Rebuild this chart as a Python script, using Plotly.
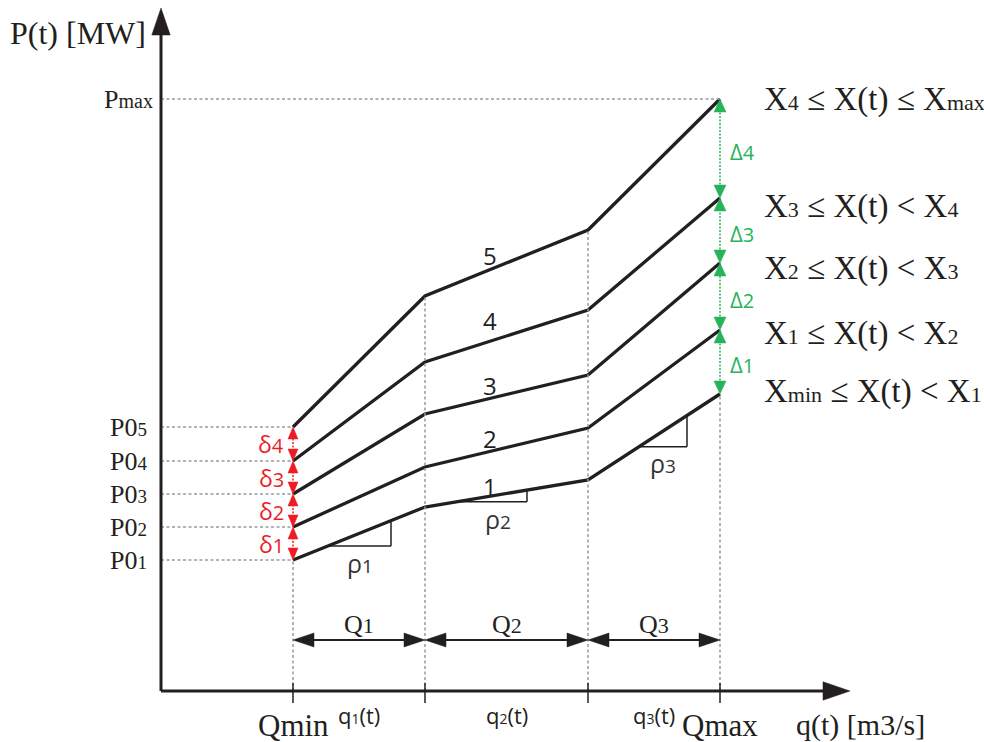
import plotly.graph_objects as go

# ---------------- data (schematic units) ----------------
q_break = [13.2, 26.4, 42.7, 55.9]          # Qmin, end of q1, end of q2, Qmax
P_line1 = [13.1, 18.4, 21.1, 29.7]
P_line2 = [16.4, 22.4, 26.3, 36.1]
P_line3 = [19.7, 27.7, 31.6, 42.8]
P_line4 = [23.0, 32.9, 38.1, 49.3]
P_line5 = [26.4, 39.5, 46.1, 59.2]
lines = [P_line1, P_line2, P_line3, P_line4, P_line5]
line_names = ["1", "2", "3", "4", "5"]
line_label_P = [20.5, 25.3, 30.6, 37.1, 43.6]
P0_labels = ["P0", "P0", "P0", "P0", "P0"]
seg_labels = ["1", "2", "3"]
region_labels = [
    ("X", "min", " ≤ X(t) &lt; X", "1"),
    ("X", "1", " ≤ X(t) &lt; X", "2"),
    ("X", "2", " ≤ X(t) &lt; X", "3"),
    ("X", "3", " ≤ X(t) &lt; X", "4"),
    ("X", "4", " ≤ X(t) ≤ X", "max"),
]
region_label_P = [30.0, 35.8, 42.3, 48.5, 59.2]
# slope triangles: (segment index, q start, q end), label position
rho_tri = [(0, 16.7, 23.0), (1, 29.6, 36.6), (2, 47.8, 52.6)]
rho_pos = [(19.9, 12.8), (33.7, 17.2), (50.2, 22.8)]

# ---------------- style ----------------
BLACK = "#231f20"
GRAY = "#9a9a9a"
RED = "#ed1c24"
GREEN = "#27b35a"
SERIF = "Liberation Serif"
SANS = "Open Sans"

X_TIP = 68.9
Y_TIP = 68.3

fig = go.Figure()
shapes = []
ann = []


def seg(x0, y0, x1, y1, color=BLACK, width=2, dash=None):
    d = dict(color=color, width=width)
    if dash:
        d["dash"] = dash
    shapes.append(dict(type="line", xref="x", yref="y", x0=x0, y0=y0, x1=x1, y1=y1, line=d))


def head(tx, ty, dx, dy, L, W, color=BLACK):
    bx, by = tx - L * dx, ty - L * dy
    nx, ny = -dy, dx
    p = (f"M {tx},{ty} L {bx + W * nx},{by + W * ny} "
         f"L {bx - W * nx},{by - W * ny} Z")
    shapes.append(dict(type="path", xref="x", yref="y", path=p,
                       fillcolor=color, line=dict(color=color, width=0.5)))


def interp(k, q):
    x0, x1 = q_break[k], q_break[k + 1]
    y0, y1 = P_line1[k], P_line1[k + 1]
    return y0 + (q - x0) * (y1 - y0) / (x1 - x0)


def text(x, y, t, size, font=SERIF, color=BLACK, xa="center", ya="middle"):
    ann.append(dict(x=x, y=y, xref="x", yref="y", text=t, showarrow=False,
                    xanchor=xa, yanchor=ya,
                    font=dict(family=font, size=size, color=color)))


def small(t, size):
    return f"<span style='font-size:{size}px'>{t}</span>"


DOT = "3px,2.5px"
Qmin, Qmax = q_break[0], q_break[-1]
Pmax = P_line5[-1]

# guide lines (dotted)
for P in [l[0] for l in lines]:
    seg(0, P, Qmin, P, GRAY, 1.5, DOT)
seg(0, Pmax, Qmax, Pmax, GRAY, 1.5, DOT)
seg(Qmin, 0, Qmin, P_line1[0], GRAY, 1.5, DOT)
seg(q_break[1], 0, q_break[1], P_line5[1], GRAY, 1.5, DOT)
seg(q_break[2], 0, q_break[2], P_line5[2], GRAY, 1.5, DOT)
seg(Qmax, 0, Qmax, P_line1[-1], GRAY, 1.5, DOT)

# axes
seg(0, 0, X_TIP - 2.0, 0, BLACK, 3)
seg(0, 0, 0, Y_TIP - 2.0, BLACK, 3)
head(X_TIP, 0, 1, 0, 2.7, 0.92)
head(0, Y_TIP, 0, 1, 2.7, 0.92)
for q in q_break:
    seg(q, 0.8, q, -1.2, BLACK, 1.5)

# Q double arrows
QY = 5.1
for i in range(3):
    a, b = q_break[i], q_break[i + 1]
    seg(a + 1.5, QY, b - 1.5, QY, BLACK, 2)
    head(a, QY, -1, 0, 2.1, 0.7)
    head(b, QY, 1, 0, 2.1, 0.7)
    text((a + b) / 2, 6.7, "Q" + small(seg_labels[i], 22), 26)
    text((a + b) / 2, -2.4, "q" + small(seg_labels[i], 14) + "(t)", 22, SANS)

# red delta arrows at Qmin
for i in range(4):
    lo, hi = lines[i][0], lines[i + 1][0]
    seg(Qmin, lo + 1.0, Qmin, hi - 1.0, RED, 1.5, "2px,1.5px")
    head(Qmin, lo, 0, -1, 1.2, 0.5, RED)
    head(Qmin, hi, 0, 1, 1.2, 0.5, RED)
    text(12.5, (lo + hi) / 2, "δ" + small(str(i + 1), 20), 23, SANS, RED, xa="right")

# green Delta arrows at Qmax
for i in range(4):
    lo, hi = lines[i][-1], lines[i + 1][-1]
    seg(Qmax, lo + 1.0, Qmax, hi - 1.0, GREEN, 1.5, "2px,1.5px")
    head(Qmax, lo, 0, -1, 1.3, 0.6, GREEN)
    head(Qmax, hi, 0, 1, 1.3, 0.6, GREEN)
    text(56.7, (lo + hi) / 2 - 0.2, "Δ" + small(str(i + 1), 20), 22, SANS, GREEN, xa="left")

# slope triangles
for (k, qa, qb), (lx, ly), nm in zip(rho_tri, rho_pos, ["1", "2", "3"]):
    ya = interp(k, qa)
    yb = interp(k, qb)
    seg(qa, ya, qb, ya, BLACK, 1.5)
    seg(qb, ya, qb, yb, BLACK, 1.5)
    text(lx, ly, "ρ" + small(nm, 19), 25, SANS, "#333333")

# piecewise lines
for P, nm, ly in zip(lines, line_names, line_label_P):
    fig.add_trace(go.Scatter(x=q_break, y=P, mode="lines",
                             line=dict(color=BLACK, width=3.3),
                             hoverinfo="skip", showlegend=False))
    text(32.9, ly, nm, 24, SANS)

# left labels
for P, lab, i in zip([l[0] for l in lines], P0_labels, range(5)):
    text(-1.2, P, lab + small(str(i + 1), 19), 26, xa="right")
text(-0.6, Pmax, "P" + small("max", 20), 26, xa="right")
text(-15.3, 65.8, "P(t) [MW]", 32, xa="left")

# bottom labels
text(Qmin, -3.4, "Qmin", 31)
text(Qmax, -3.4, "Qmax", 31)
text(69.9, -3.4, "q(t) [m3/s]", 30)

# region labels on the right
for (a, b, c, d), P in zip(region_labels, region_label_P):
    text(60.1, P, a + small(b, 22) + c + small(d, 22), 33, xa="left")

fig.update_layout(
    width=984, height=742,
    margin=dict(l=0, r=0, t=0, b=0),
    paper_bgcolor="white", plot_bgcolor="white",
    xaxis=dict(range=[-16.1, 82.3], visible=False, fixedrange=True),
    yaxis=dict(range=[-5.1, 69.1], visible=False, fixedrange=True),
    shapes=shapes, annotations=ann, showlegend=False,
)
fig.write_html("out.html",
               config={"displayModeBar": False},
               post_script="document.body.style.margin='0px';"
                           "document.body.style.overflow='hidden';")
